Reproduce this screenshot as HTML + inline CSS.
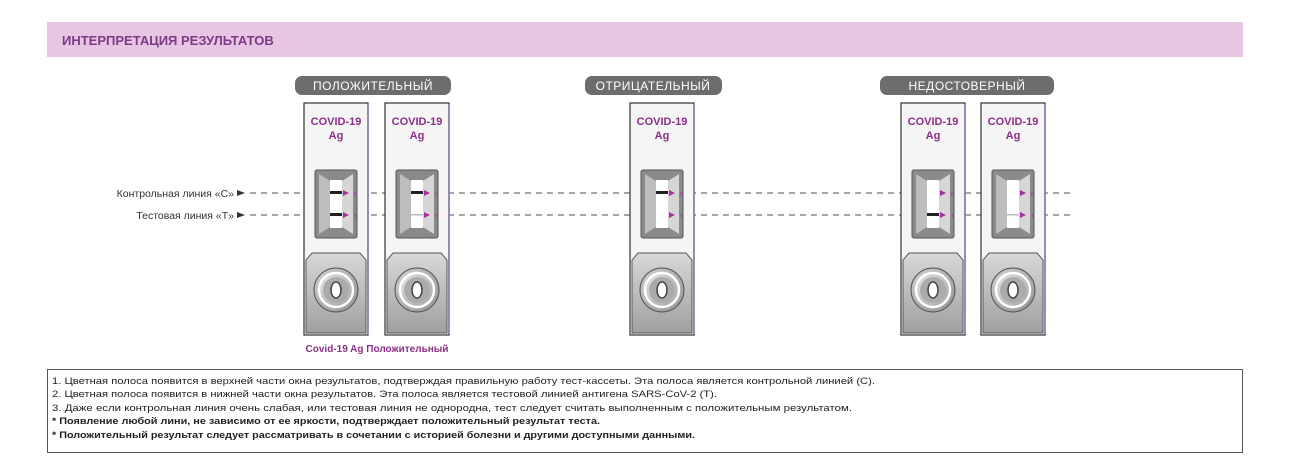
<!DOCTYPE html>
<html><head><meta charset="utf-8"><style>
body{margin:0;background:#fff;width:1302px;height:463px;overflow:hidden;font-family:"Liberation Sans",sans-serif}
svg text{font-family:"Liberation Sans",sans-serif}
</style></head><body>
<svg width="1302" height="463" xmlns="http://www.w3.org/2000/svg">
<defs>
<radialGradient id="wg" cx="0.4" cy="0.4" r="0.7"><stop offset="0" stop-color="#f4f4f4"/><stop offset="1" stop-color="#909090"/></radialGradient>
<linearGradient id="bg" x1="0" x2="0" y1="0" y2="1"><stop offset="0" stop-color="#d8d8d8"/><stop offset="1" stop-color="#a0a0a0"/></linearGradient>
</defs>
<rect x="47" y="22" width="1196" height="35" fill="#e6c6e2"/>
<text x="62" y="45" font-size="13" font-weight="bold" fill="#7e3a86">ИНТЕРПРЕТАЦИЯ РЕЗУЛЬТАТОВ</text>

<rect x="295" y="76" width="156" height="19" rx="7" fill="#6d6d6d"/>
<text x="373" y="90" font-size="12" fill="#fff" text-anchor="middle" letter-spacing="0.5">ПОЛОЖИТЕЛЬНЫЙ</text>
<rect x="585" y="76" width="137" height="19" rx="7" fill="#6d6d6d"/>
<text x="653" y="90" font-size="12" fill="#fff" text-anchor="middle" letter-spacing="0.5">ОТРИЦАТЕЛЬНЫЙ</text>
<rect x="880" y="76" width="174" height="19" rx="7" fill="#6d6d6d"/>
<text x="967" y="90" font-size="12" fill="#fff" text-anchor="middle" letter-spacing="0.5">НЕДОСТОВЕРНЫЙ</text>

<text x="234" y="197" font-size="10.5" fill="#333" text-anchor="end">Контрольная линия «C»</text>
<text x="234" y="219" font-size="10.5" fill="#333" text-anchor="end">Тестовая линия «T»</text>
<path d="M237 190 L245 193 L237 196Z M237 212 L245 215 L237 218Z" fill="#333"/>
<line x1="250" y1="193" x2="1075" y2="193" stroke="#8a8a8a" stroke-width="1.5" stroke-dasharray="6 5"/>
<line x1="250" y1="215" x2="1075" y2="215" stroke="#8a8a8a" stroke-width="1.5" stroke-dasharray="6 5"/>

<g transform="translate(304,0)">
<rect x="0" y="103" width="64" height="232" fill="#f5f5f5" stroke="#333" stroke-width="1.2"/><line x1="64" y1="104" x2="64" y2="334" stroke="#8a6fb0" stroke-width="1.5"/>
<text x="32" y="125" font-size="11" font-weight="bold" fill="#8b2f87" text-anchor="middle">COVID-19</text><text x="32" y="139" font-size="11" font-weight="bold" fill="#8b2f87" text-anchor="middle">Ag</text>
<rect x="11" y="170" width="42" height="68" rx="2" fill="#8a8a8a" stroke="#555"/><path d="M15 174 L26 181 L26 227 L15 234Z" fill="#bdbdbd"/><path d="M38 181 L49 174 L49 234 L38 227Z" fill="#d6d6d6"/>
<rect x="26" y="180" width="12" height="48" fill="#fff"/>
<path d="M39 190 L45 193 L39 196Z M39 212 L45 215 L39 218Z" fill="#a8309f"/><text x="50" y="196" font-size="7" fill="#a8309f">ᴄ</text><text x="50" y="218" font-size="7" fill="#a8309f">ᴛ</text>
<path d="M8 253 L56 253 L62 260 L62 333 L2 333 L2 260Z" fill="url(#bg)" stroke="#555"/>
<circle cx="32" cy="290" r="22" fill="url(#wg)" stroke="#555"/><circle cx="32" cy="290" r="17" fill="none" stroke="#fff" stroke-width="2.5"/><circle cx="32" cy="290" r="13" fill="#ababab"/><ellipse cx="32" cy="290" rx="5" ry="8" fill="#fff" stroke="#444" stroke-width="1.5"/>
<rect x="26" y="191" width="12" height="3" fill="#222"/><rect x="26" y="213" width="12" height="3" fill="#222"/>
</g>
<g transform="translate(385,0)">
<rect x="0" y="103" width="64" height="232" fill="#f5f5f5" stroke="#333" stroke-width="1.2"/><line x1="64" y1="104" x2="64" y2="334" stroke="#8a6fb0" stroke-width="1.5"/>
<text x="32" y="125" font-size="11" font-weight="bold" fill="#8b2f87" text-anchor="middle">COVID-19</text><text x="32" y="139" font-size="11" font-weight="bold" fill="#8b2f87" text-anchor="middle">Ag</text>
<rect x="11" y="170" width="42" height="68" rx="2" fill="#8a8a8a" stroke="#555"/><path d="M15 174 L26 181 L26 227 L15 234Z" fill="#bdbdbd"/><path d="M38 181 L49 174 L49 234 L38 227Z" fill="#d6d6d6"/>
<rect x="26" y="180" width="12" height="48" fill="#fff"/>
<path d="M39 190 L45 193 L39 196Z M39 212 L45 215 L39 218Z" fill="#a8309f"/><text x="50" y="196" font-size="7" fill="#a8309f">ᴄ</text><text x="50" y="218" font-size="7" fill="#a8309f">ᴛ</text>
<path d="M8 253 L56 253 L62 260 L62 333 L2 333 L2 260Z" fill="url(#bg)" stroke="#555"/>
<circle cx="32" cy="290" r="22" fill="url(#wg)" stroke="#555"/><circle cx="32" cy="290" r="17" fill="none" stroke="#fff" stroke-width="2.5"/><circle cx="32" cy="290" r="13" fill="#ababab"/><ellipse cx="32" cy="290" rx="5" ry="8" fill="#fff" stroke="#444" stroke-width="1.5"/>
<rect x="26" y="191" width="12" height="3" fill="#222"/><rect x="26" y="214" width="12" height="1.5" fill="#bbb"/>
</g>
<g transform="translate(630,0)">
<rect x="0" y="103" width="64" height="232" fill="#f5f5f5" stroke="#333" stroke-width="1.2"/><line x1="64" y1="104" x2="64" y2="334" stroke="#8a6fb0" stroke-width="1.5"/>
<text x="32" y="125" font-size="11" font-weight="bold" fill="#8b2f87" text-anchor="middle">COVID-19</text><text x="32" y="139" font-size="11" font-weight="bold" fill="#8b2f87" text-anchor="middle">Ag</text>
<rect x="11" y="170" width="42" height="68" rx="2" fill="#8a8a8a" stroke="#555"/><path d="M15 174 L26 181 L26 227 L15 234Z" fill="#bdbdbd"/><path d="M38 181 L49 174 L49 234 L38 227Z" fill="#d6d6d6"/>
<rect x="26" y="180" width="12" height="48" fill="#fff"/>
<path d="M39 190 L45 193 L39 196Z M39 212 L45 215 L39 218Z" fill="#a8309f"/><text x="50" y="196" font-size="7" fill="#a8309f">ᴄ</text><text x="50" y="218" font-size="7" fill="#a8309f">ᴛ</text>
<path d="M8 253 L56 253 L62 260 L62 333 L2 333 L2 260Z" fill="url(#bg)" stroke="#555"/>
<circle cx="32" cy="290" r="22" fill="url(#wg)" stroke="#555"/><circle cx="32" cy="290" r="17" fill="none" stroke="#fff" stroke-width="2.5"/><circle cx="32" cy="290" r="13" fill="#ababab"/><ellipse cx="32" cy="290" rx="5" ry="8" fill="#fff" stroke="#444" stroke-width="1.5"/>
<rect x="26" y="191" width="12" height="3" fill="#222"/>
</g>
<g transform="translate(901,0)">
<rect x="0" y="103" width="64" height="232" fill="#f5f5f5" stroke="#333" stroke-width="1.2"/><line x1="64" y1="104" x2="64" y2="334" stroke="#8a6fb0" stroke-width="1.5"/>
<text x="32" y="125" font-size="11" font-weight="bold" fill="#8b2f87" text-anchor="middle">COVID-19</text><text x="32" y="139" font-size="11" font-weight="bold" fill="#8b2f87" text-anchor="middle">Ag</text>
<rect x="11" y="170" width="42" height="68" rx="2" fill="#8a8a8a" stroke="#555"/><path d="M15 174 L26 181 L26 227 L15 234Z" fill="#bdbdbd"/><path d="M38 181 L49 174 L49 234 L38 227Z" fill="#d6d6d6"/>
<rect x="26" y="180" width="12" height="48" fill="#fff"/>
<path d="M39 190 L45 193 L39 196Z M39 212 L45 215 L39 218Z" fill="#a8309f"/><text x="50" y="196" font-size="7" fill="#a8309f">ᴄ</text><text x="50" y="218" font-size="7" fill="#a8309f">ᴛ</text>
<path d="M8 253 L56 253 L62 260 L62 333 L2 333 L2 260Z" fill="url(#bg)" stroke="#555"/>
<circle cx="32" cy="290" r="22" fill="url(#wg)" stroke="#555"/><circle cx="32" cy="290" r="17" fill="none" stroke="#fff" stroke-width="2.5"/><circle cx="32" cy="290" r="13" fill="#ababab"/><ellipse cx="32" cy="290" rx="5" ry="8" fill="#fff" stroke="#444" stroke-width="1.5"/>
<rect x="26" y="213" width="12" height="3" fill="#222"/>
</g>
<g transform="translate(981,0)">
<rect x="0" y="103" width="64" height="232" fill="#f5f5f5" stroke="#333" stroke-width="1.2"/><line x1="64" y1="104" x2="64" y2="334" stroke="#8a6fb0" stroke-width="1.5"/>
<text x="32" y="125" font-size="11" font-weight="bold" fill="#8b2f87" text-anchor="middle">COVID-19</text><text x="32" y="139" font-size="11" font-weight="bold" fill="#8b2f87" text-anchor="middle">Ag</text>
<rect x="11" y="170" width="42" height="68" rx="2" fill="#8a8a8a" stroke="#555"/><path d="M15 174 L26 181 L26 227 L15 234Z" fill="#bdbdbd"/><path d="M38 181 L49 174 L49 234 L38 227Z" fill="#d6d6d6"/>
<rect x="26" y="180" width="12" height="48" fill="#fff"/>
<path d="M39 190 L45 193 L39 196Z M39 212 L45 215 L39 218Z" fill="#a8309f"/><text x="50" y="196" font-size="7" fill="#a8309f">ᴄ</text><text x="50" y="218" font-size="7" fill="#a8309f">ᴛ</text>
<path d="M8 253 L56 253 L62 260 L62 333 L2 333 L2 260Z" fill="url(#bg)" stroke="#555"/>
<circle cx="32" cy="290" r="22" fill="url(#wg)" stroke="#555"/><circle cx="32" cy="290" r="17" fill="none" stroke="#fff" stroke-width="2.5"/><circle cx="32" cy="290" r="13" fill="#ababab"/><ellipse cx="32" cy="290" rx="5" ry="8" fill="#fff" stroke="#444" stroke-width="1.5"/>
<rect x="26" y="214" width="12" height="1.5" fill="#bbb"/>
</g>

<text x="377" y="352" font-size="10" font-weight="bold" fill="#8b2f87" text-anchor="middle">Covid-19 Ag Положительный</text>

<rect x="47.5" y="369.5" width="1195" height="83" fill="none" stroke="#555" stroke-width="1"/>
<g font-size="9.5" fill="#222">
<text x="52" y="384" textLength="823" lengthAdjust="spacingAndGlyphs">1. Цветная полоса появится в верхней части окна результатов, подтверждая правильную работу тест-кассеты. Эта полоса является контрольной линией (C).</text>
<text x="52" y="397" textLength="665" lengthAdjust="spacingAndGlyphs">2. Цветная полоса появится в нижней части окна результатов. Эта полоса является тестовой линией антигена SARS-CoV-2 (T).</text>
<text x="52" y="411" textLength="800" lengthAdjust="spacingAndGlyphs">3. Даже если контрольная линия очень слабая, или тестовая линия не однородна, тест следует считать выполненным с положительным результатом.</text>
<text x="52" y="424" font-weight="bold" textLength="548" lengthAdjust="spacingAndGlyphs">* Появление любой лини, не зависимо от ее яркости, подтверждает положительный результат теста.</text>
<text x="52" y="438" font-weight="bold" textLength="643" lengthAdjust="spacingAndGlyphs">* Положительный результат следует рассматривать в сочетании с историей болезни и другими доступными данными.</text>
</g>
</svg>
</body></html>
